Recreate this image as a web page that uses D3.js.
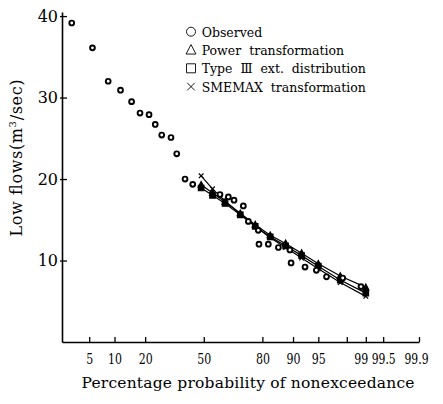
<!DOCTYPE html>
<html>
<head>
<meta charset="utf-8">
<script src="https://cdn.jsdelivr.net/npm/d3@7"></script>
<style>
body { margin: 0; background: #fff; }
</style>
</head>
<body>
<script>
// observed low flows: plotting position (%) and flow (m3/sec)
var obsP = [2.9, 5.5, 8.5, 11.6, 15.0, 18.0, 21.6, 24.3, 27.3, 31.9, 34.9, 39.4, 43.7,
            59.2, 63.8, 66.8, 71.5, 73.9, 78.3, 78.6, 82.3, 85.8, 89.2, 89.5, 92.7, 94.7, 96.1, 97.7, 98.8];
var obsQ = [39.15, 36.1, 32.0, 30.9, 29.5, 28.1, 27.9, 26.7, 25.4, 25.1, 23.1, 20.0, 19.35,
            18.1, 17.8, 17.4, 16.7, 14.8, 13.7, 12.0, 12.0, 11.6, 11.3, 9.7, 9.2, 8.8, 8.0, 7.85, 6.8];

// fitted curves
var fitP = [48.5, 55, 62, 70, 77, 83, 88, 92, 95, 97.5, 99];
var powerQ = [19.3, 18.3, 17.2, 15.8, 14.4, 13.1, 12.1, 10.9, 9.6, 8.1, 6.7];
var typeQ = [18.9, 18.0, 17.0, 15.6, 14.2, 12.9, 11.8, 10.6, 9.3, 7.6, 6.0];
var smemaxQ = [20.4, 18.8, 17.3, 15.7, 14.2, 12.8, 11.6, 10.3, 9.0, 7.3, 5.6];

var probTicks = [5, 10, 20, 50, 80, 90, 95, 98, 99, 99.5, 99.9];
var probLabels = ["5", "10", "20", "50", "80", "90", "95", "", "99", "99.5", "99.9"];
var flowTicks = [10, 20, 30, 40];
var legendLabels = ["Observed", "Power  transformation", "Type  \u2162  ext.  distribution", "SMEMAX  transformation"];
var legendShapes = ["circle", "triangle", "square", "cross"];

var svgWidth = 443;
var svgHeight = 404;
var serif = "'DejaVu Serif', 'Liberation Serif', serif";

// inverse of the standard normal cdf (Acklam)
function probit(p) {
    var a = [-3.969683028665376e+01, 2.209460984245205e+02, -2.759285104469687e+02, 1.383577518672690e+02, -3.066479806614716e+01, 2.506628277459239e+00];
    var b = [-5.447609879822406e+01, 1.615858368580409e+02, -1.556989798598866e+02, 6.680131188771972e+01, -1.328068155288572e+01];
    var c = [-7.784894002430293e-03, -3.223964580411365e-01, -2.400758277161838e+00, -2.549732539343734e+00, 4.374664141464968e+00, 2.938163982698783e+00];
    var d = [7.784695709041462e-03, 3.224671290700398e-01, 2.445134137142996e+00, 3.754408661907416e+00];
    var q, r;
    if (p < 0.02425) {
        q = Math.sqrt(-2 * Math.log(p));
        return (((((c[0]*q+c[1])*q+c[2])*q+c[3])*q+c[4])*q+c[5]) / ((((d[0]*q+d[1])*q+d[2])*q+d[3])*q+1);
    } else if (p > 1 - 0.02425) {
        q = Math.sqrt(-2 * Math.log(1 - p));
        return -(((((c[0]*q+c[1])*q+c[2])*q+c[3])*q+c[4])*q+c[5]) / ((((d[0]*q+d[1])*q+d[2])*q+d[3])*q+1);
    }
    q = p - 0.5;
    r = q * q;
    return (((((a[0]*r+a[1])*r+a[2])*r+a[3])*r+a[4])*r+a[5])*q / (((((b[0]*r+b[1])*r+b[2])*r+b[3])*r+b[4])*r+1);
}

var svg = d3.select("body")
        .append("svg")
        .attr("width", svgWidth)
        .attr("height", svgHeight);

// normal probability scale: linear in z
var zScale = d3.scaleLinear()
        .domain([probit(0.0209), probit(0.999)])
        .range([62, 419]);
function xScale(p) {
    return zScale(probit(p / 100));
}

var yScale = d3.scaleLinear()
        .domain([0, 40.5])
        .range([342, 12]);

var xAxis = d3.axisBottom(zScale)
        .tickValues(probTicks.map(function (p) { return probit(p / 100); }))
        .tickFormat(function (d, i) { return probLabels[i]; })
        .tickSizeInner(-5)
        .tickSizeOuter(0)
        .tickPadding(12);

var yAxis = d3.axisLeft(yScale)
        .tickValues(flowTicks)
        .tickSizeInner(-5)
        .tickSizeOuter(0)
        .tickPadding(4);

var gx = svg.append("g")
        .attr("transform", "translate(0,342)")
        .call(xAxis);
gx.selectAll("text")
        .style("font-family", serif)
        .style("font-size", "14px")
        .attr("textLength", function (d, i) {
            var s = probLabels[i];
            return s.replace(".", "").length * 7 + (s.indexOf(".") >= 0 ? 3 : 0);
        })
        .attr("lengthAdjust", "spacingAndGlyphs")
        .attr("dx", function (d, i) { return probLabels[i] === "99" ? -5 : (probLabels[i] === "99.9" ? -3 : 0); });

var gy = svg.append("g")
        .attr("transform", "translate(62,0)")
        .call(yAxis);
gy.selectAll("text").style("font-family", serif).style("font-size", "16px");
gy.selectAll(".tick line").attr("x1", -2);

svg.selectAll(".domain").attr("stroke-width", 1.6);
svg.selectAll(".tick line").attr("stroke-width", 1.3);

// axis titles
svg.append("text")
        .attr("transform", "translate(22,158) rotate(-90)")
        .attr("text-anchor", "middle")
        .attr("textLength", 157)
        .attr("lengthAdjust", "spacing")
        .style("font-family", serif)
        .style("font-size", "16px")
        .html("Low flows(m<tspan dy='-6' style='font-size:10px'>3</tspan><tspan dy='6'>/sec)</tspan>");

svg.append("text")
        .attr("x", 248)
        .attr("y", 388)
        .attr("text-anchor", "middle")
        .attr("textLength", 333)
        .attr("lengthAdjust", "spacing")
        .style("font-family", serif)
        .style("font-size", "15.5px")
        .text("Percentage probability of nonexceedance");

// marker shapes
function shapePath(kind, s) {
    if (kind === "triangle") {
        return "M0," + (-s * 0.6) + "L" + (s * 0.55) + "," + (s * 0.45) + "L" + (-s * 0.55) + "," + (s * 0.45) + "Z";
    }
    if (kind === "square") {
        return "M" + (-s / 2) + "," + (-s / 2) + "h" + s + "v" + s + "h" + (-s) + "Z";
    }
    if (kind === "cross") {
        var h = s * 0.42;
        return "M" + (-h) + "," + (-h) + "L" + h + "," + h + "M" + h + "," + (-h) + "L" + (-h) + "," + h;
    }
    return d3.arc()({innerRadius: 0, outerRadius: s / 2, startAngle: 0, endAngle: 2 * Math.PI});
}

var lineFunc = d3.line()
        .x(function (d) { return xScale(d.p); })
        .y(function (d) { return yScale(d.q); });

var fits = [
    {shape: "triangle", q: powerQ},
    {shape: "square", q: typeQ},
    {shape: "cross", q: smemaxQ}
];

fits.forEach(function (f) {
    var pts = fitP.map(function (p, i) { return {p: p, q: f.q[i]}; });
    svg.append("path")
            .attr("d", lineFunc(pts))
            .attr("fill", "none")
            .attr("stroke", "#000")
            .attr("stroke-width", 1.2);
    svg.selectAll(null)
            .data(pts)
            .enter()
            .append("path")
            .attr("transform", function (d) { return "translate(" + xScale(d.p) + "," + yScale(d.q) + ")"; })
            .attr("d", shapePath(f.shape, 5.5))
            .attr("fill", f.shape === "cross" ? "none" : "#000")
            .attr("stroke", "#000")
            .attr("stroke-width", 1.2);
});

// observed points
svg.selectAll(".obs")
        .data(obsP)
        .enter()
        .append("circle")
        .attr("class", "obs")
        .attr("cx", function (d) { return xScale(d); })
        .attr("cy", function (d, i) { return yScale(obsQ[i]); })
        .attr("r", 2.4)
        .attr("fill", "#fff")
        .attr("stroke", "#000")
        .attr("stroke-width", 1.9);

// legend
var legend = svg.append("g")
        .attr("transform", "translate(191,31.7)");
legendLabels.forEach(function (label, i) {
    var row = legend.append("g").attr("transform", "translate(0," + (i * 18.3) + ")");
    row.append("path")
            .attr("d", shapePath(legendShapes[i], 9))
            .attr("fill", "none")
            .attr("stroke", "#000")
            .attr("stroke-width", 0.9);
    row.append("text")
            .attr("x", 10.7)
            .attr("y", 5)
            .style("font-family", serif)
            .style("font-size", "12.5px")
            .style("white-space", "pre")
            .text(label);
});
</script>
</body>
</html>
